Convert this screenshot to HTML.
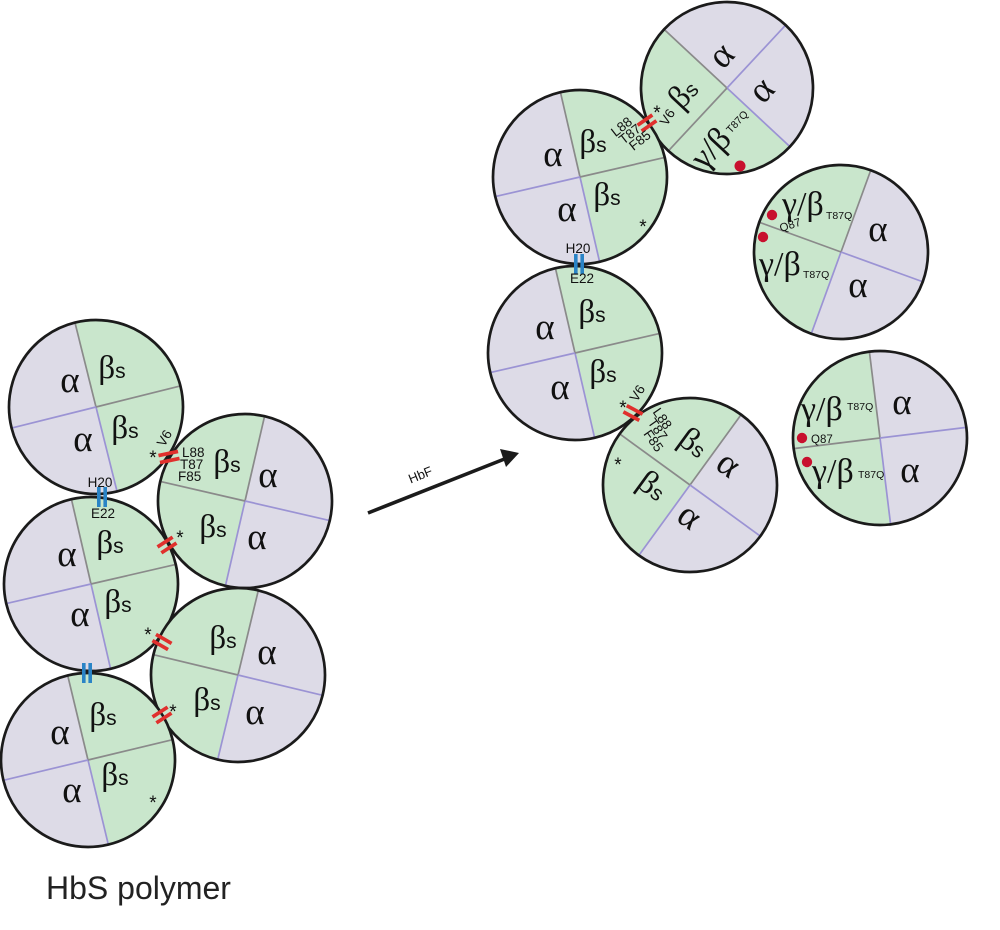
<!DOCTYPE html>
<html>
<head>
<meta charset="utf-8">
<style>
html,body{margin:0;padding:0;background:#fff;}
svg{display:block;}
.lv{fill:#dddbe7;}
.gr{fill:#c9e6cc;}
.g{stroke:#8a8a8a;stroke-width:1.7;}
.p{stroke:#9b93d4;stroke-width:1.7;}
.bd{fill:none;stroke:#1b1b1b;stroke-width:2.7;}
.al{font-family:"Liberation Serif",serif;font-size:37px;fill:#111;text-anchor:middle;}
.bs{font-family:"Liberation Serif",serif;font-size:33px;fill:#111;text-anchor:middle;}
.bs tspan.s{font-family:"Liberation Sans",sans-serif;font-size:21px;}
.gb{font-family:"Liberation Serif",serif;font-size:34px;fill:#111;}
.sm{font-family:"Liberation Sans",sans-serif;font-size:13.5px;fill:#111;}
.tq{font-family:"Liberation Sans",sans-serif;font-size:10.5px;fill:#111;}
.st{font-family:"Liberation Sans",sans-serif;font-size:19px;fill:#111;text-anchor:middle;}
.rd rect{fill:#e0302d;}
.bl rect{fill:#2a84c6;}
.dot{fill:#c8102e;}
</style>
</head>
<body>
<svg width="1000" height="930" viewBox="0 0 1000 930" xmlns="http://www.w3.org/2000/svg">
<rect width="1000" height="930" fill="#fff"/>

<!-- ===== LEFT CLUSTER ===== -->
<g transform="translate(96,407) rotate(-14)">
<circle r="87" class="lv"/><path d="M0,-87 A87,87 0 0 1 0,87 Z" class="gr"/>
<line x1="0" y1="-87" x2="0" y2="0" class="g"/><line x1="0" y1="0" x2="0" y2="87" class="p"/>
<line x1="0" y1="0" x2="87" y2="0" class="g"/><line x1="-87" y1="0" x2="0" y2="0" class="p"/>
<circle r="87" class="bd"/></g>
<g transform="translate(245,501) rotate(13)">
<circle r="87" class="lv"/><path d="M0,-87 A87,87 0 0 0 0,87 Z" class="gr"/>
<line x1="0" y1="-87" x2="0" y2="0" class="g"/><line x1="0" y1="0" x2="0" y2="87" class="p"/>
<line x1="-87" y1="0" x2="0" y2="0" class="g"/><line x1="0" y1="0" x2="87" y2="0" class="p"/>
<circle r="87" class="bd"/></g>
<g transform="translate(91,584) rotate(-13)">
<circle r="87" class="lv"/><path d="M0,-87 A87,87 0 0 1 0,87 Z" class="gr"/>
<line x1="0" y1="-87" x2="0" y2="0" class="g"/><line x1="0" y1="0" x2="0" y2="87" class="p"/>
<line x1="0" y1="0" x2="87" y2="0" class="g"/><line x1="-87" y1="0" x2="0" y2="0" class="p"/>
<circle r="87" class="bd"/></g>
<g transform="translate(238,675) rotate(13.5)">
<circle r="87" class="lv"/><path d="M0,-87 A87,87 0 0 0 0,87 Z" class="gr"/>
<line x1="0" y1="-87" x2="0" y2="0" class="g"/><line x1="0" y1="0" x2="0" y2="87" class="p"/>
<line x1="-87" y1="0" x2="0" y2="0" class="g"/><line x1="0" y1="0" x2="87" y2="0" class="p"/>
<circle r="87" class="bd"/></g>
<g transform="translate(88,760) rotate(-13.5)">
<circle r="87" class="lv"/><path d="M0,-87 A87,87 0 0 1 0,87 Z" class="gr"/>
<line x1="0" y1="-87" x2="0" y2="0" class="g"/><line x1="0" y1="0" x2="0" y2="87" class="p"/>
<line x1="0" y1="0" x2="87" y2="0" class="g"/><line x1="-87" y1="0" x2="0" y2="0" class="p"/>
<circle r="87" class="bd"/></g>

<!-- ===== RIGHT CLUSTER ===== -->
<g transform="translate(727,88) rotate(-47)">
<circle r="86" class="lv"/><path d="M0,-86 A86,86 0 0 0 0,86 Z" class="gr"/>
<line x1="0" y1="-86" x2="0" y2="0" class="g"/><line x1="0" y1="0" x2="0" y2="86" class="p"/>
<line x1="-86" y1="0" x2="0" y2="0" class="g"/><line x1="0" y1="0" x2="86" y2="0" class="p"/>
<circle r="86" class="bd"/>
<text class="al" x="20" y="-15">α</text>
<text class="al" x="22" y="38">α</text>
<text class="bs" x="-34" y="-18"><tspan>β</tspan><tspan class="s">s</tspan></text>
<text class="gb" x="-76" y="40">γ/β</text>
<text class="tq" x="-31" y="34">T87Q</text>
</g>
<g transform="translate(580,177) rotate(-13)">
<circle r="87" class="lv"/><path d="M0,-87 A87,87 0 0 1 0,87 Z" class="gr"/>
<line x1="0" y1="-87" x2="0" y2="0" class="g"/><line x1="0" y1="0" x2="0" y2="87" class="p"/>
<line x1="0" y1="0" x2="87" y2="0" class="g"/><line x1="-87" y1="0" x2="0" y2="0" class="p"/>
<circle r="87" class="bd"/></g>
<g transform="translate(575,353) rotate(-13)">
<circle r="87" class="lv"/><path d="M0,-87 A87,87 0 0 1 0,87 Z" class="gr"/>
<line x1="0" y1="-87" x2="0" y2="0" class="g"/><line x1="0" y1="0" x2="0" y2="87" class="p"/>
<line x1="0" y1="0" x2="87" y2="0" class="g"/><line x1="-87" y1="0" x2="0" y2="0" class="p"/>
<circle r="87" class="bd"/></g>
<g transform="translate(690,485) rotate(36)">
<circle r="87" class="lv"/><path d="M0,-87 A87,87 0 0 0 0,87 Z" class="gr"/>
<line x1="0" y1="-87" x2="0" y2="0" class="g"/><line x1="0" y1="0" x2="0" y2="87" class="p"/>
<line x1="-87" y1="0" x2="0" y2="0" class="g"/><line x1="0" y1="0" x2="87" y2="0" class="p"/>
<circle r="87" class="bd"/>
<text class="bs" x="-22" y="-26"><tspan>β</tspan><tspan class="s">s</tspan></text>
<text class="al" x="19" y="-28">α</text>
<text class="al" x="18" y="37">α</text>
<text class="bs" x="-30" y="33"><tspan>β</tspan><tspan class="s">s</tspan></text>
</g>
<g transform="translate(841,252) rotate(20)">
<circle r="87" class="lv"/><path d="M0,-87 A87,87 0 0 0 0,87 Z" class="gr"/>
<line x1="0" y1="-87" x2="0" y2="0" class="g"/><line x1="0" y1="0" x2="0" y2="87" class="p"/>
<line x1="-87" y1="0" x2="0" y2="0" class="g"/><line x1="0" y1="0" x2="87" y2="0" class="p"/>
<circle r="87" class="bd"/></g>
<g transform="translate(880,438) rotate(-7)">
<circle r="87" class="lv"/><path d="M0,-87 A87,87 0 0 0 0,87 Z" class="gr"/>
<line x1="0" y1="-87" x2="0" y2="0" class="g"/><line x1="0" y1="0" x2="0" y2="87" class="p"/>
<line x1="-87" y1="0" x2="0" y2="0" class="g"/><line x1="0" y1="0" x2="87" y2="0" class="p"/>
<circle r="87" class="bd"/></g>

<!-- ===== LABELS LEFT ===== -->
<text class="al" x="70" y="392">α</text>
<text class="bs" x="112" y="378"><tspan>β</tspan><tspan class="s">s</tspan></text>
<text class="al" x="83" y="451">α</text>
<text class="bs" x="125" y="438"><tspan>β</tspan><tspan class="s">s</tspan></text>

<text class="bs" x="227" y="472"><tspan>β</tspan><tspan class="s">s</tspan></text>
<text class="al" x="268" y="487">α</text>
<text class="bs" x="213" y="537"><tspan>β</tspan><tspan class="s">s</tspan></text>
<text class="al" x="257" y="549">α</text>

<text class="al" x="67" y="566">α</text>
<text class="bs" x="110" y="553"><tspan>β</tspan><tspan class="s">s</tspan></text>
<text class="al" x="80" y="626">α</text>
<text class="bs" x="118" y="612"><tspan>β</tspan><tspan class="s">s</tspan></text>

<text class="bs" x="223" y="648"><tspan>β</tspan><tspan class="s">s</tspan></text>
<text class="al" x="267" y="664">α</text>
<text class="bs" x="207" y="710"><tspan>β</tspan><tspan class="s">s</tspan></text>
<text class="al" x="255" y="724">α</text>

<text class="al" x="60" y="744">α</text>
<text class="bs" x="103" y="725"><tspan>β</tspan><tspan class="s">s</tspan></text>
<text class="al" x="72" y="802">α</text>
<text class="bs" x="115" y="785"><tspan>β</tspan><tspan class="s">s</tspan></text>

<!-- ===== LABELS RIGHT ===== -->
<text class="al" x="553" y="166">α</text>
<text class="bs" x="593" y="152"><tspan>β</tspan><tspan class="s">s</tspan></text>
<text class="al" x="567" y="221">α</text>
<text class="bs" x="607" y="205"><tspan>β</tspan><tspan class="s">s</tspan></text>

<text class="al" x="545" y="339">α</text>
<text class="bs" x="592" y="322"><tspan>β</tspan><tspan class="s">s</tspan></text>
<text class="al" x="560" y="399">α</text>
<text class="bs" x="603" y="382"><tspan>β</tspan><tspan class="s">s</tspan></text>

<!-- R5 labels -->
<text class="gb" x="782" y="215">γ/β</text>
<text class="tq" x="826" y="219">T87Q</text>
<text class="tq" transform="translate(781,232) rotate(-18)" style="font-size:11.5px">Q87</text>
<circle class="dot" cx="772" cy="215" r="5.2"/>
<circle class="dot" cx="763" cy="237" r="5.2"/>
<text class="gb" x="759" y="275">γ/β</text>
<text class="tq" x="803" y="278">T87Q</text>
<text class="al" x="878" y="241">α</text>
<text class="al" x="858" y="297">α</text>

<!-- R6 labels -->
<text class="gb" x="801" y="420">γ/β</text>
<text class="tq" x="847" y="410">T87Q</text>
<text class="al" x="902" y="414">α</text>
<text class="tq" x="811" y="443" style="font-size:11.5px">Q87</text>
<circle class="dot" cx="802" cy="438" r="5.2"/>
<circle class="dot" cx="807" cy="462" r="5.2"/>
<text class="gb" x="812" y="482">γ/β</text>
<text class="tq" x="858" y="478">T87Q</text>
<text class="al" x="910" y="482">α</text>

<circle class="dot" cx="740" cy="166" r="5.5"/>

<!-- ===== CONTACT MARKS ===== -->
<g class="rd" transform="translate(169,457) rotate(-12)"><rect x="-10" y="-5.4" width="20" height="3.7"/><rect x="-10" y="1.7" width="20" height="3.7"/></g>
<g class="rd" transform="translate(167,545) rotate(-33)"><rect x="-9" y="-5.4" width="18" height="3.7"/><rect x="-9" y="1.7" width="18" height="3.7"/></g>
<g class="rd" transform="translate(162,642) rotate(30)"><rect x="-9" y="-5.4" width="18" height="3.7"/><rect x="-9" y="1.7" width="18" height="3.7"/></g>
<g class="rd" transform="translate(162,715) rotate(-33)"><rect x="-9" y="-5.4" width="18" height="3.7"/><rect x="-9" y="1.7" width="18" height="3.7"/></g>
<g class="rd" transform="translate(647,123) rotate(-35)"><rect x="-9" y="-5.4" width="18" height="3.7"/><rect x="-9" y="1.7" width="18" height="3.7"/></g>
<g class="rd" transform="translate(633,413) rotate(28)"><rect x="-9" y="-5.4" width="18" height="3.7"/><rect x="-9" y="1.7" width="18" height="3.7"/></g>

<g class="bl" transform="translate(102,497)"><rect x="-5" y="-10" width="3.6" height="20"/><rect x="1.4" y="-10" width="3.6" height="20"/></g>
<g class="bl" transform="translate(87,673)"><rect x="-5" y="-10" width="3.6" height="20"/><rect x="1.4" y="-10" width="3.6" height="20"/></g>
<g class="bl" transform="translate(579,264)"><rect x="-5" y="-10" width="3.6" height="20"/><rect x="1.4" y="-10" width="3.6" height="20"/></g>

<!-- asterisks -->
<text class="st" x="153" y="464">*</text>
<text class="st" x="180" y="544">*</text>
<text class="st" x="148" y="641">*</text>
<text class="st" x="173" y="718">*</text>
<text class="st" x="153" y="809">*</text>
<text class="st" x="657" y="119">*</text>
<text class="st" x="643" y="233">*</text>
<text class="st" x="623" y="414">*</text>
<text class="st" x="618" y="471">*</text>

<!-- residue labels -->
<text class="sm" x="100" y="487" text-anchor="middle">H20</text>
<text class="sm" x="103" y="518" text-anchor="middle">E22</text>
<text class="sm" x="578" y="253" text-anchor="middle">H20</text>
<text class="sm" x="582" y="283" text-anchor="middle">E22</text>

<text class="sm" transform="translate(164,438) rotate(-60)" text-anchor="middle" y="5">V6</text>
<text class="sm" x="182" y="457">L88</text>
<text class="sm" x="180" y="469">T87</text>
<text class="sm" x="178" y="481">F85</text>

<text class="sm" transform="translate(667,117) rotate(-58)" text-anchor="middle" y="5">V6</text>
<g transform="translate(629,133) rotate(-38)">
<text class="sm" x="-2" y="-5" text-anchor="middle">L88</text>
<text class="sm" x="0" y="6" text-anchor="middle">T87</text>
<text class="sm" x="4" y="17" text-anchor="middle">F85</text>
</g>

<text class="sm" transform="translate(637,393) rotate(-58)" text-anchor="middle" y="5">V6</text>
<g transform="translate(658,429) rotate(55)">
<text class="sm" x="-6" y="-5" text-anchor="middle">L88</text>
<text class="sm" x="0" y="5" text-anchor="middle">T87</text>
<text class="sm" x="7" y="15" text-anchor="middle">F85</text>
</g>

<!-- ===== ARROW ===== -->
<line x1="368" y1="513" x2="507" y2="458" stroke="#1b1b1b" stroke-width="3.6"/>
<polygon points="519,453 500,449 506,467" fill="#1b1b1b"/>
<text class="sm" transform="translate(422,479) rotate(-22)" text-anchor="middle" style="font-size:13px">HbF</text>

<text x="46" y="899" style="font-family:'Liberation Sans',sans-serif;font-size:32px;fill:#222;">HbS polymer</text>
</svg>
</body>
</html>
